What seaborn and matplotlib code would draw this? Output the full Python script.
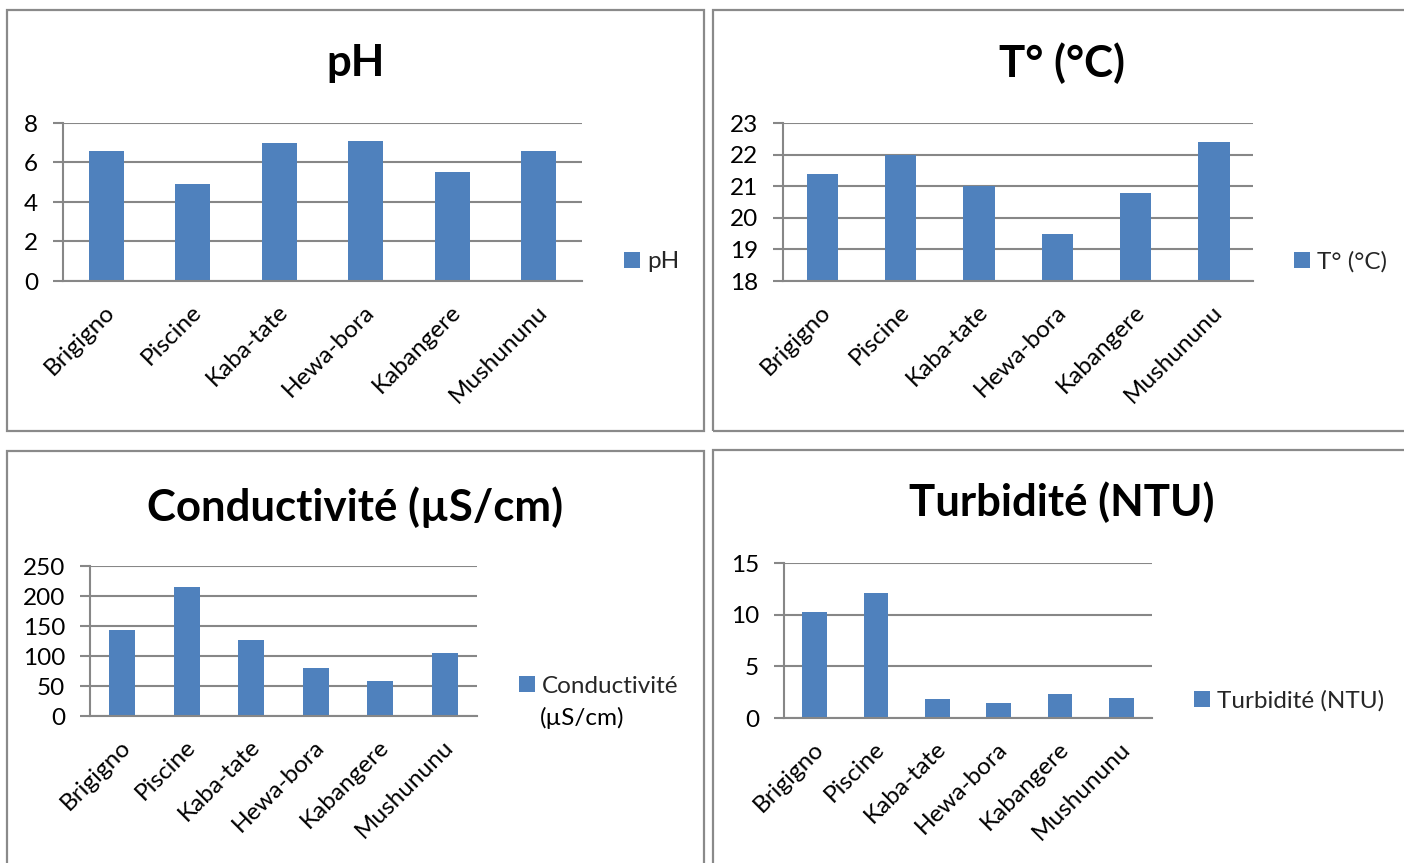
import matplotlib
matplotlib.use("Agg")
import matplotlib.pyplot as plt
import matplotlib.transforms as mtrans
import seaborn as sns
import pandas as pd
from matplotlib.patches import Rectangle, Patch

sns.set_theme(style="white")
plt.rcParams['font.family'] = ['Lato', 'DejaVu Sans']

sites = ["Brigigno", "Piscine", "Kaba-tate", "Hewa-bora", "Kabangere", "Mushununu"]
ph_values = [6.6, 4.9, 7.0, 7.1, 5.5, 6.6]
temp_values = [21.4, 22.0, 21.0, 19.5, 20.8, 22.4]
cond_values = [143, 215, 126, 80, 59, 105]
turb_values = [10.3, 12.1, 1.8, 1.5, 2.3, 1.9]

titles = ["pH", "T° (°C)", "Conductivité (µS/cm)", "Turbidité (NTU)"]
legend_labels = ["pH", "T° (°C)", "Conductivité", "Turbidité (NTU)"]
y_ticks = [[0, 2, 4, 6, 8], [18, 19, 20, 21, 22, 23], [0, 50, 100, 150, 200, 250], [0, 5, 10, 15]]

W, H = 1404, 863
BAR = "#4F81BD"
GRID = "#878787"
FS = 17.5
fig = plt.figure(figsize=(W / 100, H / 100), dpi=100)

def px_rect(x0, y0, x1, y1):
    return [x0 / W, 1 - y1 / H, (x1 - x0) / W, (y1 - y0) / H]

# panel borders
for (x0, y0, x1, y1) in [(7, 10, 704, 431), (713, 10, 1412, 431), (7, 451, 704, 875), (713, 450, 1412, 875)]:
    fig.patches.append(Rectangle((x0 / W, 1 - y1 / H), (x1 - x0) / W, (y1 - y0) / H,
                                 transform=fig.transFigure, fill=False,
                                 edgecolor="#8a8a8a", linewidth=1.6))

axes_px = [(63, 123, 582, 281), (783, 123, 1253, 281), (90, 566, 477, 716), (784, 563, 1152, 718)]
title_px = [(356, 63), (1062, 63), (355, 507), (1062, 502)]
legend_px = [(624, 262), (1294, 262), (519, 686), (1194, 701)]
data = [ph_values, temp_values, cond_values, turb_values]

for i in range(4):
    ax = fig.add_axes(px_rect(*axes_px[i]))
    df = pd.DataFrame({"site": sites, "value": data[i]})
    sns.barplot(data=df, x="site", y="value", color=BAR, width=0.4, ax=ax,
                saturation=1, edgecolor="none", linewidth=0)
    ax.set_ylim(y_ticks[i][0], y_ticks[i][-1])
    ax.set_xlim(-0.5, 5.5)
    ax.set_yticks(y_ticks[i])
    ax.set_yticklabels([str(t) for t in y_ticks[i]], fontsize=FS, color="black")
    ax.yaxis.grid(True, color=GRID, linewidth=1.5)
    ax.set_axisbelow(True)
    ax.set_xlabel("")
    ax.set_ylabel("")
    ax.set_xticks(range(6))
    ax.set_xticks([k - 0.5 for k in range(7)], minor=True)
    ax.set_xticklabels(sites, rotation=45, ha="right", va="top", rotation_mode="anchor",
                       fontsize=FS, color="black")
    ax.tick_params(axis="x", which="major", length=0, pad=14.5)
    ax.tick_params(axis="x", which="minor", length=7, width=1.5, color=GRID, direction="out")
    ax.tick_params(axis="y", length=7, width=1.5, color=GRID, direction="out", pad=11, left=True)
    for s in ["top", "right"]:
        ax.spines[s].set_visible(False)
    for s in ["left", "bottom"]:
        ax.spines[s].set_color(GRID)
        ax.spines[s].set_linewidth(1.5)
    offset = mtrans.ScaledTranslation(-2 / 100, 0, fig.dpi_scale_trans)
    for lab in ax.get_xticklabels():
        lab.set_transform(lab.get_transform() + offset)

    fig.text(title_px[i][0] / W, 1 - title_px[i][1] / H, titles[i], ha="center", va="center",
             fontsize=31.5, fontweight="bold", color="black")
    handle = Patch(facecolor=BAR, edgecolor="none")
    fig.legend([handle], [legend_labels[i]], loc="center left",
               bbox_to_anchor=(legend_px[i][0] / W, 1 - legend_px[i][1] / H),
               frameon=False, fontsize=FS, handlelength=0.65, handleheight=0.65,
               handletextpad=0.3, borderpad=0, borderaxespad=0)

# second line of the wrapped conductivity legend label
fig.text(540 / W, 1 - 718 / H, "(µS/cm)", ha="left", va="center", fontsize=FS, color="black")

fig.savefig("out.png", dpi=100, facecolor="white")
